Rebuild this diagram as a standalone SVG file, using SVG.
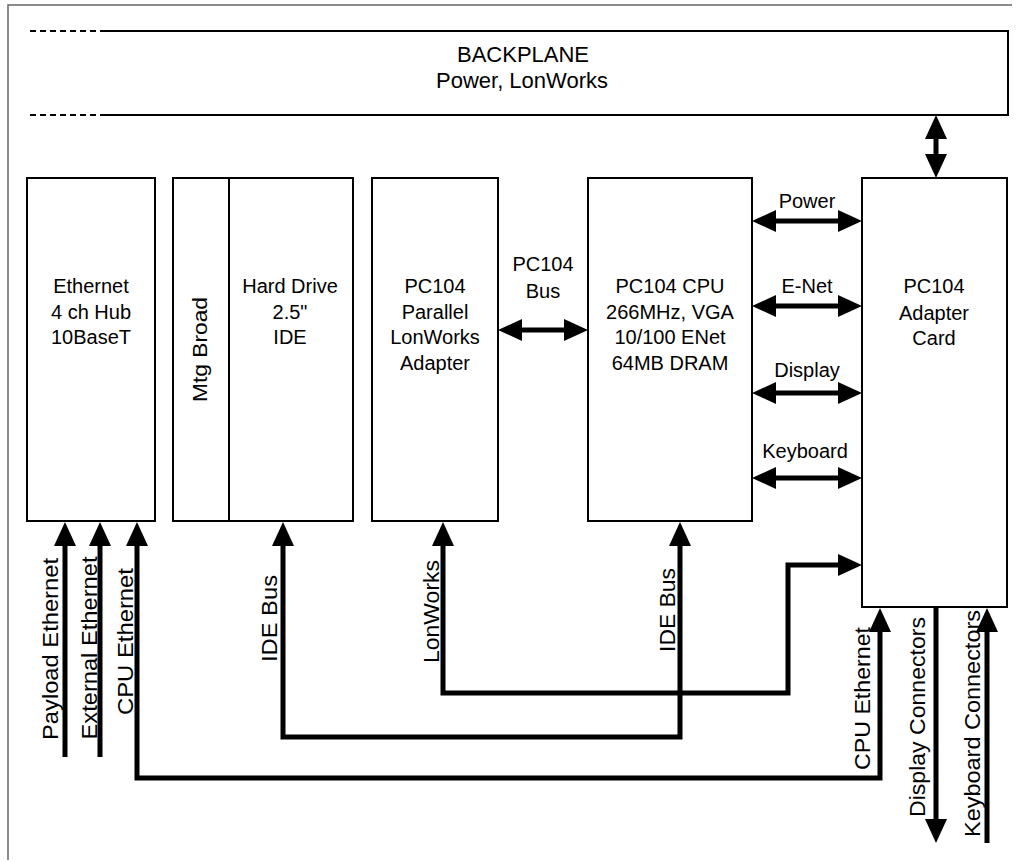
<svg xmlns="http://www.w3.org/2000/svg" width="1016" height="862" viewBox="0 0 1016 862">
<defs>
<style>
.bx{fill:#fff;stroke:#000;stroke-width:2}
.t{font-family:"Liberation Sans",Arial,sans-serif;font-size:20px;fill:#000;text-anchor:middle}
.tb{font-family:"Liberation Sans",Arial,sans-serif;font-size:22px;fill:#000;text-anchor:middle}
.tv{font-family:"Liberation Sans",Arial,sans-serif;font-size:22px;fill:#000;text-anchor:middle}
.c{fill:none;stroke:#000;stroke-width:5;stroke-linejoin:miter}
.frame{fill:none;stroke:#666;stroke-width:1.5}
</style>
<marker id="ah" viewBox="0 0 24 22" refX="12" refY="11" markerWidth="24" markerHeight="22" markerUnits="userSpaceOnUse" orient="auto-start-reverse">
<path d="M0,0 L24,11 L0,22 z" fill="#000"/>
</marker>
</defs>
<rect x="0" y="0" width="1016" height="862" fill="#fff"/>
<g id="frame">
<path class="frame" d="M8,860 V5 H1012"/>
</g>
<g id="backplane">
<path d="M30,31 H100" stroke="#000" stroke-width="2" stroke-dasharray="6,4" fill="none"/>
<path d="M30,115 H100" stroke="#000" stroke-width="2" stroke-dasharray="6,4" fill="none"/>
<path d="M100,31 H1008 V115 H100" stroke="#000" stroke-width="2" fill="none"/>
<text class="tb" x="523" y="62">BACKPLANE</text>
<text class="tb" x="522" y="88">Power, LonWorks</text>
</g>
<g id="ethernet-hub">
<rect class="bx" x="27" y="178" width="128" height="343"/>
<text class="t" x="91" y="293">Ethernet</text>
<text class="t" x="91" y="319">4 ch Hub</text>
<text class="t" x="91" y="344">10BaseT</text>
</g>
<g id="hard-drive">
<rect class="bx" x="173" y="178" width="180" height="343"/>
<line x1="229" y1="178" x2="229" y2="521" stroke="#000" stroke-width="2"/>
<text class="t" transform="translate(207,349.5) rotate(-90)" x="0" y="0" textLength="105" lengthAdjust="spacingAndGlyphs">Mtg Broad</text>
<text class="t" x="290" y="293">Hard Drive</text>
<text class="t" x="290" y="319">2.5"</text>
<text class="t" x="290" y="344">IDE</text>
</g>
<g id="lonworks-adapter">
<rect class="bx" x="372" y="178" width="126" height="343"/>
<text class="t" x="435" y="293">PC104</text>
<text class="t" x="435" y="319">Parallel</text>
<text class="t" x="435" y="344">LonWorks</text>
<text class="t" x="435" y="370">Adapter</text>
</g>
<g id="cpu">
<rect class="bx" x="588" y="178" width="164" height="343"/>
<text class="t" x="670" y="293">PC104 CPU</text>
<text class="t" x="670" y="319">266MHz, VGA</text>
<text class="t" x="670" y="344">10/100 ENet</text>
<text class="t" x="670" y="370">64MB DRAM</text>
</g>
<g id="adapter-card">
<rect class="bx" x="862" y="178" width="145" height="429"/>
<text class="t" x="934" y="293">PC104</text>
<text class="t" x="934" y="320">Adapter</text>
<text class="t" x="934" y="345">Card</text>
</g>
<g id="connectors">
<path class="c" d="M936,127 V166" marker-start="url(#ah)" marker-end="url(#ah)"/>
<path class="c" d="M764,221 H850" marker-start="url(#ah)" marker-end="url(#ah)"/>
<path class="c" d="M764,306 H850" marker-start="url(#ah)" marker-end="url(#ah)"/>
<path class="c" d="M764,393 H850" marker-start="url(#ah)" marker-end="url(#ah)"/>
<path class="c" d="M764,478 H850" marker-start="url(#ah)" marker-end="url(#ah)"/>
<path class="c" d="M510,330 H576" marker-start="url(#ah)" marker-end="url(#ah)"/>
<path class="c" d="M65,757 V534" marker-end="url(#ah)"/>
<path class="c" d="M100,757 V534" marker-end="url(#ah)"/>
<path class="c" d="M137,534 V778 H880 V620" marker-start="url(#ah)" marker-end="url(#ah)"/>
<path class="c" d="M283,534 V737 H680 V534" marker-start="url(#ah)" marker-end="url(#ah)"/>
<path class="c" d="M443,534 V693 H788 V565 H850" marker-start="url(#ah)" marker-end="url(#ah)"/>
<path class="c" d="M936,607 V831" marker-end="url(#ah)"/>
<path class="c" d="M987,843 V620" marker-end="url(#ah)"/>
<text class="t" x="807" y="208">Power</text>
<text class="t" x="807" y="293">E-Net</text>
<text class="t" x="807" y="377">Display</text>
<text class="t" x="805" y="458">Keyboard</text>
<text class="t" x="543" y="271">PC104</text>
<text class="t" x="543" y="298">Bus</text>
<text class="tv" transform="translate(58,649) rotate(-90)" textLength="182" lengthAdjust="spacingAndGlyphs">Payload Ethernet</text>
<text class="tv" transform="translate(97,648) rotate(-90)" textLength="183" lengthAdjust="spacingAndGlyphs">External Ethernet</text>
<text class="tv" transform="translate(133,641.5) rotate(-90)" textLength="147" lengthAdjust="spacingAndGlyphs">CPU Ethernet</text>
<text class="tv" transform="translate(277,618.5) rotate(-90)" textLength="87" lengthAdjust="spacingAndGlyphs">IDE Bus</text>
<text class="tv" transform="translate(439,611.5) rotate(-90)" textLength="103" lengthAdjust="spacingAndGlyphs">LonWorks</text>
<text class="tv" transform="translate(675,610) rotate(-90)" textLength="84" lengthAdjust="spacingAndGlyphs">IDE Bus</text>
<text class="tv" transform="translate(870,698.5) rotate(-90)" textLength="143" lengthAdjust="spacingAndGlyphs">CPU Ethernet</text>
<text class="tv" transform="translate(925,717) rotate(-90)" textLength="200" lengthAdjust="spacingAndGlyphs">Display Connectors</text>
<text class="tv" transform="translate(980,723.5) rotate(-90)" textLength="227" lengthAdjust="spacingAndGlyphs">Keyboard Connectors</text>
</g>
</svg>
